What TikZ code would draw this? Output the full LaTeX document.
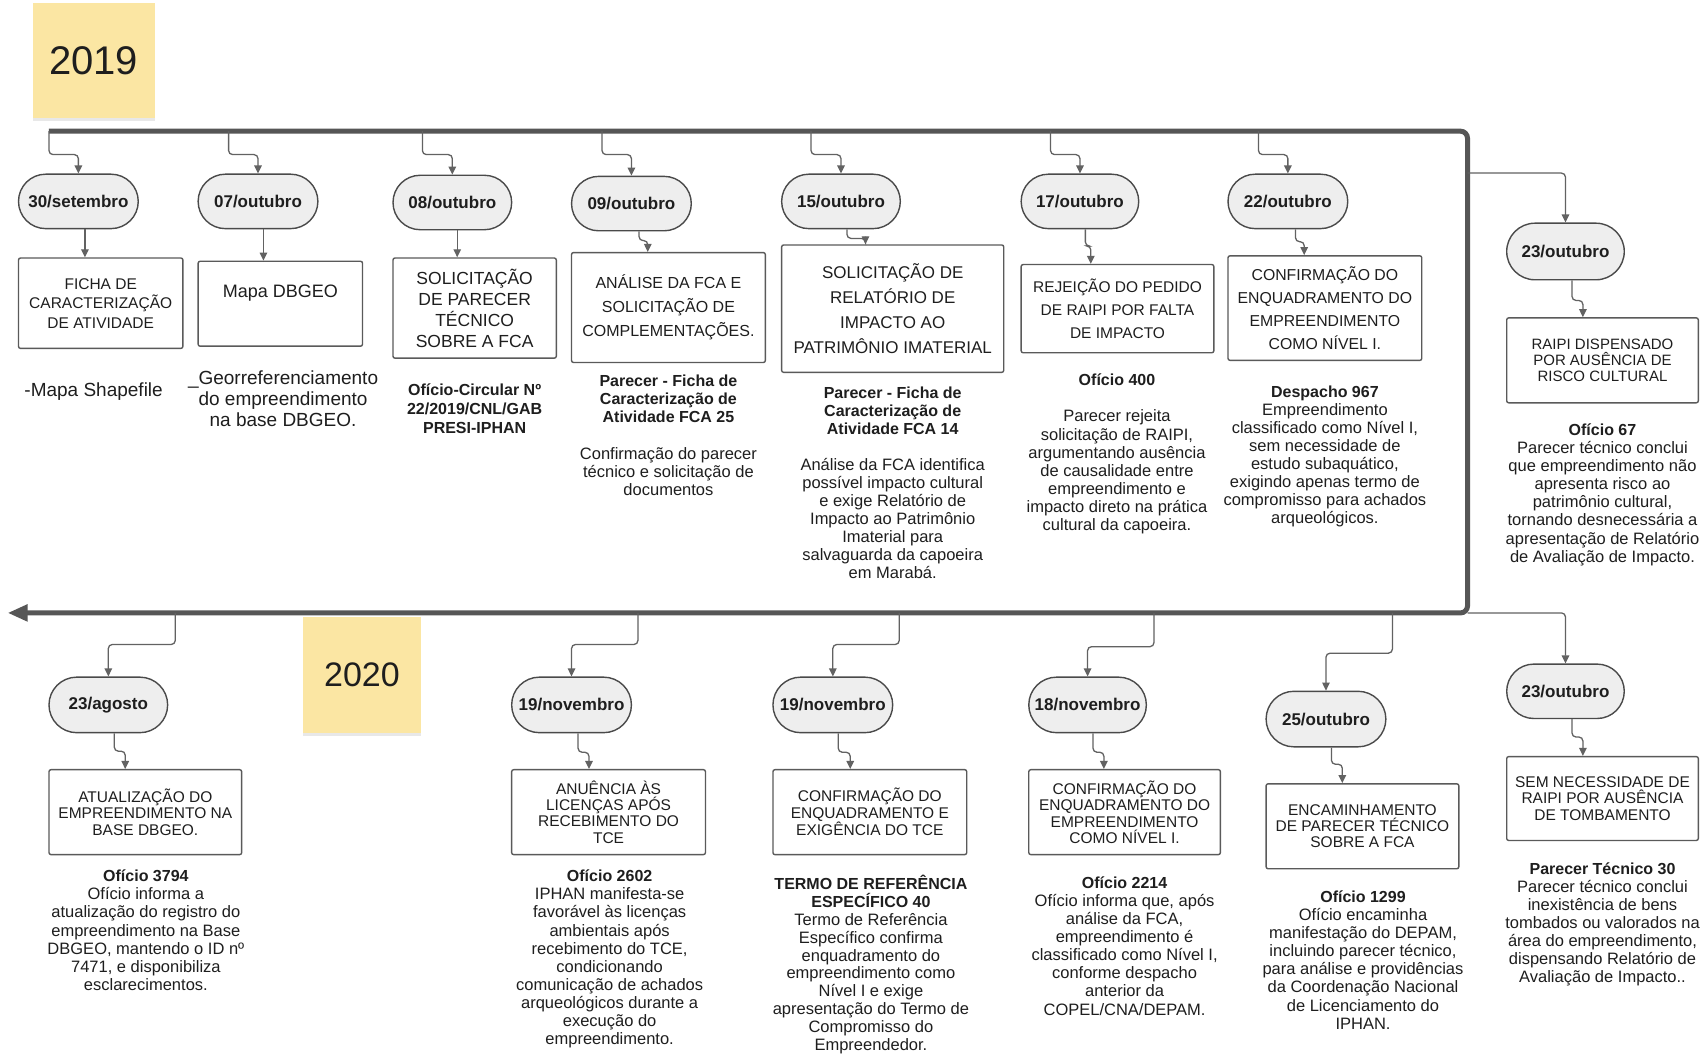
\documentclass[tikz,border=0pt]{standalone}
\usepackage{fontspec}
\setmainfont{Liberation Sans}
\usetikzlibrary{shapes.misc,arrows.meta,shadows}
\definecolor{tlc}{HTML}{565656}
\definecolor{cnc}{HTML}{626262}
\definecolor{pfill}{HTML}{EEEEEE}
\definecolor{pline}{HTML}{4A4A4A}
\definecolor{bline}{HTML}{5A5A5A}
\definecolor{stk}{HTML}{FBE6A3}
\definecolor{txt}{HTML}{1E1E1E}
\newcommand\Pill[6]{\node[pillst, minimum width={(#4-#2)*1.0887pt}, minimum height={(#5-#3)*1.0887pt}] (#1) at ({(#2+#4)/2},{(#3+#5)/2}) {#6};}
\newcommand\Bx[7]{\node[boxst, #1, minimum width={(#4-#2)*1.0887pt}, minimum height={(#5-#3)*1.0887pt}] (#6) at ({(#2+#4)/2},{(#3+#5)/2}) {#7};}
\newcommand\hd[1]{{\fontsize{16}{18.1}\selectfont\bfseries #1}}
\begin{document}
\begin{tikzpicture}[x=1.0887pt,y=-1.0887pt,
  pillst/.style={rounded rectangle, draw=pline, fill=pfill, line width=1.4pt, inner sep=0pt, text=txt, font=\fontsize{17}{20}\selectfont\bfseries},
  boxst/.style={rectangle, draw=bline, fill=white, line width=1.4pt, rounded corners=2pt, inner sep=0pt, align=center, text=txt},
  conn/.style={draw=cnc, line width=1.3pt, rounded corners=4pt, -{Triangle[length=8pt,width=7.5pt]}},
  timeline/.style={draw=tlc, line width=5pt, rounded corners=7pt},
  body/.style={anchor=north, align=center, inner sep=0pt, text=txt, font=\fontsize{16.5}{18.1}\selectfont},
  stickyst/.style={rectangle, fill=stk, inner sep=0pt, text=txt, drop shadow={shadow xshift=0pt, shadow yshift=-3pt, opacity=0.18}},
]
\useasboundingbox (0,0) rectangle (1568,969);
\fill[white] (0,0) rectangle (1568,969);

% year notes
\node[stickyst, minimum width={112*1.0887pt}, minimum height={105*1.0887pt}, font=\fontsize{40}{44}\selectfont] (y19) at (86,55.5) {2019};
\node[stickyst, minimum width={109*1.0887pt}, minimum height={106*1.0887pt}, font=\fontsize{34}{38}\selectfont] (y20) at (332.5,620) {2020};

% timeline
\coordinate (tA) at (45,120.5);
\coordinate (tB) at (1348,120.5);
\coordinate (tC) at (1348,563);
\coordinate (tD) at (7,563);
\draw[timeline, -{Triangle[length=20pt,width=16pt]}] (tA) -- (tB) -- (tC) -- (tD);

% pills top
\Pill{p1}{17}{160}{127}{210}{30/setembro}
\Pill{p2}{182}{160}{292}{210}{07/outubro}
\Pill{p3}{361}{161}{470}{211}{08/outubro}
\Pill{p4}{525}{162}{635}{212}{09/outubro}
\Pill{p5}{718}{160}{827}{210}{15/outubro}
\Pill{p6}{938}{160}{1046}{210}{17/outubro}
\Pill{p7}{1128}{160}{1238}{210}{22/outubro}
\Pill{p8}{1384}{205}{1492}{257}{23/outubro}
% pills bottom
\Pill{q1}{45}{622}{154}{673}{23/agosto}
\Pill{q2}{470}{622}{580}{673}{19/novembro}
\Pill{q3}{710}{622}{820}{673}{19/novembro}
\Pill{q4}{945}{622}{1053}{673}{18/novembro}
\Pill{q5}{1163}{635}{1273}{686}{25/outubro}
\Pill{q6}{1384}{610}{1492}{660}{23/outubro}

% boxes top
\Bx{font=\fontsize{15.5}{19.6}\selectfont}{17}{237}{168}{320}{b1}{FICHA DE\\CARACTERIZAÇÃO\\DE ATIVIDADE}
\Bx{}{182}{240}{333}{318}{b2}{}
\node[text=txt, font=\fontsize{18}{20}\selectfont] (b2t) at (257.5,269) {Mapa DBGEO};
\Bx{font=\fontsize{17.5}{21}\selectfont}{361}{237}{511}{329}{b3}{SOLICITAÇÃO\\DE PARECER\\TÉCNICO\\SOBRE A FCA}
\Bx{font=\fontsize{16}{24}\selectfont}{525}{232}{703}{333}{b4}{ANÁLISE DA FCA E\\SOLICITAÇÃO DE\\COMPLEMENTAÇÕES.}
\Bx{font=\fontsize{17}{25}\selectfont}{718}{225}{922}{342}{b5}{SOLICITAÇÃO DE\\RELATÓRIO DE\\IMPACTO AO\\PATRIMÔNIO IMATERIAL}
\Bx{font=\fontsize{15.5}{23}\selectfont}{938}{243}{1115}{324}{b6}{REJEIÇÃO DO PEDIDO\\DE RAIPI POR FALTA\\DE IMPACTO}
\Bx{font=\fontsize{15.8}{23}\selectfont}{1128}{235}{1306}{331}{b7}{CONFIRMAÇÃO DO\\ENQUADRAMENTO DO\\EMPREENDIMENTO\\COMO NÍVEL I.}
\Bx{font=\fontsize{15}{16.3}\selectfont}{1384}{292}{1560}{370}{b8}{RAIPI DISPENSADO\\POR AUSÊNCIA DE\\RISCO CULTURAL}
% boxes bottom
\Bx{font=\fontsize{15.5}{16.3}\selectfont}{45}{707}{222}{785}{c1}{ATUALIZAÇÃO DO\\EMPREENDIMENTO NA\\BASE DBGEO.}
\Bx{font=\fontsize{15.5}{16.3}\selectfont}{470}{707}{648}{785}{c2}{ANUÊNCIA ÀS\\LICENÇAS APÓS\\RECEBIMENTO DO\\TCE}
\Bx{font=\fontsize{15.5}{16.3}\selectfont}{710}{707}{888}{785}{c3}{CONFIRMAÇÃO DO\\ENQUADRAMENTO E\\EXIGÊNCIA DO TCE}
\Bx{font=\fontsize{15.5}{16.3}\selectfont}{945}{707}{1121}{785}{c4}{CONFIRMAÇÃO DO\\ENQUADRAMENTO DO\\EMPREENDIMENTO\\COMO NÍVEL I.}
\Bx{font=\fontsize{15.5}{16.3}\selectfont}{1163}{720}{1340}{798}{c5}{ENCAMINHAMENTO\\DE PARECER TÉCNICO\\SOBRE A FCA}
\Bx{font=\fontsize{15.5}{16.3}\selectfont}{1384}{695}{1560}{772}{c6}{SEM NECESSIDADE DE\\RAIPI POR AUSÊNCIA\\DE TOMBAMENTO}

% connectors timeline -> pills
\foreach \n/\xs in {p1/45,p2/210,p3/388,p4/553,p5/745,p6/965,p7/1156}{
  \coordinate (s\n) at (\xs,120.5);
  \draw[conn] (s\n) -- (\xs,142) -| (\n.north);
}
\coordinate (sp8) at (1348,159);
\draw[conn] (sp8) -| (p8.north);
\foreach \n/\xs/\yb in {q1/161/592,q2/586/592,q3/826/592,q4/1060/594,q5/1279/600}{
  \coordinate (s\n) at (\xs,563);
  \draw[conn] (s\n) -- (\xs,\yb) -| (\n.north);
}
\draw[conn] (tC) -| (q6.north);

% connectors pills -> boxes
\foreach \p/\b/\xa in {p1/b1/78,p2/b2/242,p3/b3/420}{
  \draw[conn] (\p.south -| \xa,0) -- (\b.north -| \xa,0);
}
\foreach \p/\b/\xa/\yb/\xb in {p4/b4/587/221/595,p5/b5/778/219/795,p6/b6/997/226/1002,p7/b7/1190/222/1198,p8/b8/1444/276/1454,q1/c1/105/690/115,q2/c2/531/691/541,q3/c3/770/691/781,q4/c4/1004/691/1014,q5/c5/1223/702/1233,q6/c6/1444/677/1454}{
  \draw[conn] (\p.south -| \xa,0) -- (\xa,\yb) -| (\b.north -| \xb,0);
}

% texts top
\node[body, font=\fontsize{19}{21.2}\selectfont] (t1) at (86,351) {-Mapa Shapefile};
\node[body, font=\fontsize{19}{21.2}\selectfont] (t2) at (260,340) {\_Georreferenciamento\\do empreendimento\\na base DBGEO.};
\node[body, font=\fontsize{16}{19}\selectfont\bfseries] (t3) at (436,352) {Ofício-Circular Nº\\22/2019/CNL/GAB\\PRESI-IPHAN};
\node[body] (t4) at (614,344) {\hd{Parecer - Ficha de}\\ \hd{Caracterização de}\\ \hd{Atividade FCA 25}\\[18.5pt]Confirmação do parecer\\técnico e solicitação de\\documentos};
\node[body] (t5) at (820,355) {\hd{Parecer - Ficha de}\\ \hd{Caracterização de}\\ \hd{Atividade FCA 14}\\[17.5pt]Análise da FCA identifica\\possível impacto cultural\\e exige Relatório de\\Impacto ao Patrimônio\\Imaterial para\\salvaguarda da capoeira\\em Marabá.};
\node[body] (t6) at (1026,343) {\hd{Ofício 400}\\[18.5pt]Parecer rejeita\\solicitação de RAIPI,\\argumentando ausência\\de causalidade entre\\empreendimento e\\impacto direto na prática\\cultural da capoeira.};
\node[body] (t7) at (1217,354) {\hd{Despacho 967}\\Empreendimento\\classificado como Nível I,\\sem necessidade de\\estudo subaquático,\\exigindo apenas termo de\\compromisso para achados\\arqueológicos.};
\node[body] (t8) at (1472,389) {\hd{Ofício 67}\\Parecer técnico conclui\\que empreendimento não\\apresenta risco ao\\patrimônio cultural,\\tornando desnecessária a\\apresentação de Relatório\\de Avaliação de Impacto.};
% texts bottom
\node[body] (u1) at (134,799) {\hd{Ofício 3794}\\Ofício informa a\\atualização do registro do\\empreendimento na Base\\DBGEO, mantendo o ID nº\\7471, e disponibiliza\\esclarecimentos.};
\node[body] (u2) at (560,799) {\hd{Ofício 2602}\\IPHAN manifesta-se\\favorável às licenças\\ambientais após\\recebimento do TCE,\\condicionando\\comunicação de achados\\arqueológicos durante a\\execução do\\empreendimento.};
\node[body, font=\fontsize{16.5}{17.8}\selectfont] (u3) at (800,804) {\hd{TERMO DE REFERÊNCIA}\\ \hd{ESPECÍFICO 40}\\Termo de Referência\\Específico confirma\\enquadramento do\\empreendimento como\\Nível I e exige\\apresentação do Termo de\\Compromisso do\\Empreendedor.};
\node[body] (u4) at (1033,805) {\hd{Ofício 2214}\\Ofício informa que, após\\análise da FCA,\\empreendimento é\\classificado como Nível I,\\conforme despacho\\anterior da\\COPEL/CNA/DEPAM.};
\node[body] (u5) at (1252,818) {\hd{Ofício 1299}\\Ofício encaminha\\manifestação do DEPAM,\\incluindo parecer técnico,\\para análise e providências\\da Coordenação Nacional\\de Licenciamento do\\IPHAN.};
\node[body] (u6) at (1472,792) {\hd{Parecer Técnico 30}\\Parecer técnico conclui\\inexistência de bens\\tombados ou valorados na\\área do empreendimento,\\dispensando Relatório de\\Avaliação de Impacto..};
\end{tikzpicture}
\end{document}
